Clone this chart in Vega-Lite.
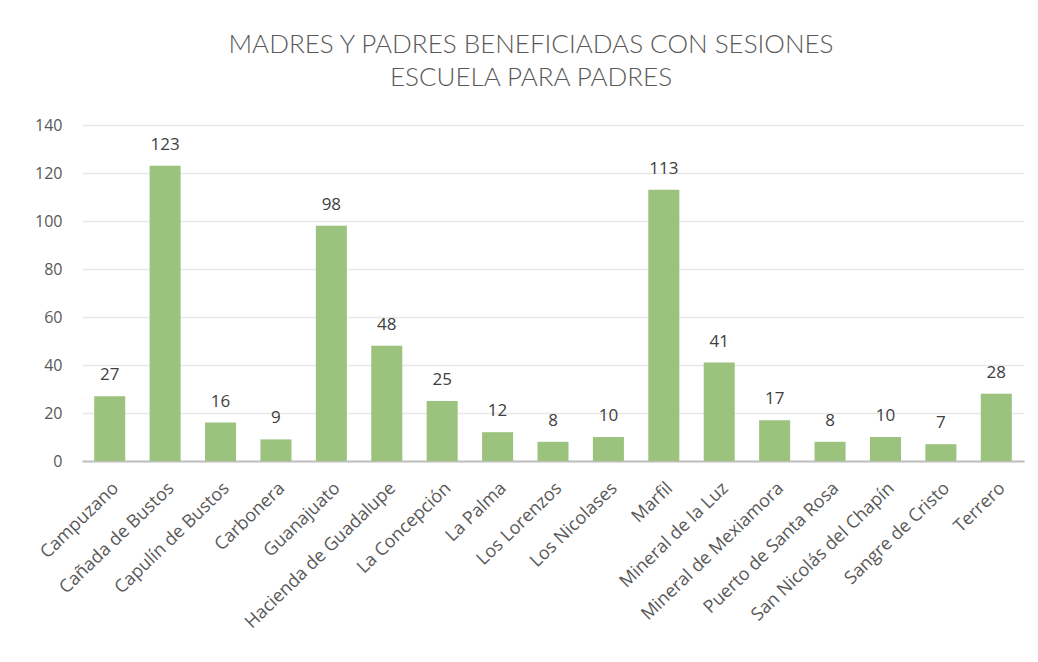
{
  "$schema": "https://vega.github.io/schema/vega-lite/v6.json",
  "width": 942,
  "height": 336,
  "autosize": {"type": "none"},
  "padding": {"left": 82, "top": 125, "right": 14, "bottom": 201},
  "background": "white",
  "title": {
    "text": ["MADRES Y PADRES BENEFICIADAS CON SESIONES", "ESCUELA PARA PADRES"],
    "font": "Lato",
    "fontSize": 26,
    "fontWeight": 300,
    "color": "#595959",
    "anchor": "middle",
    "dx": -22,
    "lineHeight": 33,
    "offset": 26
  },
  "data": {
    "values": [
      {"comunidad": "Campuzano", "valor": 27},
      {"comunidad": "Cañada de Bustos", "valor": 123},
      {"comunidad": "Capulín de Bustos", "valor": 16},
      {"comunidad": "Carbonera", "valor": 9},
      {"comunidad": "Guanajuato", "valor": 98},
      {"comunidad": "Hacienda de Guadalupe", "valor": 48},
      {"comunidad": "La Concepción", "valor": 25},
      {"comunidad": "La Palma", "valor": 12},
      {"comunidad": "Los Lorenzos", "valor": 8},
      {"comunidad": "Los Nicolases", "valor": 10},
      {"comunidad": "Marfil", "valor": 113},
      {"comunidad": "Mineral de la Luz", "valor": 41},
      {"comunidad": "Mineral de Mexiamora", "valor": 17},
      {"comunidad": "Puerto de Santa Rosa", "valor": 8},
      {"comunidad": "San Nicolás del Chapín", "valor": 10},
      {"comunidad": "Sangre de Cristo", "valor": 7},
      {"comunidad": "Terrero", "valor": 28}
    ]
  },
  "encoding": {
    "x": {
      "field": "comunidad",
      "type": "nominal",
      "sort": null,
      "scale": {"paddingInner": 0.44, "paddingOuter": 0.22},
      "axis": {
        "title": null,
        "labelAngle": -44,
        "labelAlign": "right",
        "labelBaseline": "top",
        "labelFont": "Open Sans",
        "labelFontSize": 18,
        "labelColor": "#595959",
        "labelPadding": 18,
        "ticks": false,
        "domainColor": "#BFBFBF",
        "domainWidth": 2,
        "labelLimit": 300
      }
    },
    "y": {
      "field": "valor",
      "type": "quantitative",
      "scale": {"domain": [0, 140]},
      "axis": {
        "title": null,
        "values": [0, 20, 40, 60, 80, 100, 120, 140],
        "domain": false,
        "ticks": false,
        "labelFont": "Open Sans",
        "labelFontSize": 16,
        "labelColor": "#595959",
        "labelPadding": 20,
        "gridColor": "#E8E8E8",
        "gridWidth": 1.5
      }
    }
  },
  "layer": [
    {"mark": {"type": "bar", "color": "#9BC37D"}},
    {
      "mark": {
        "type": "text",
        "baseline": "alphabetic",
        "dy": -16,
        "font": "Open Sans",
        "fontSize": 17,
        "color": "#404040"
      },
      "encoding": {"text": {"field": "valor", "type": "quantitative"}}
    }
  ],
  "config": {"view": {"stroke": null}}
}
